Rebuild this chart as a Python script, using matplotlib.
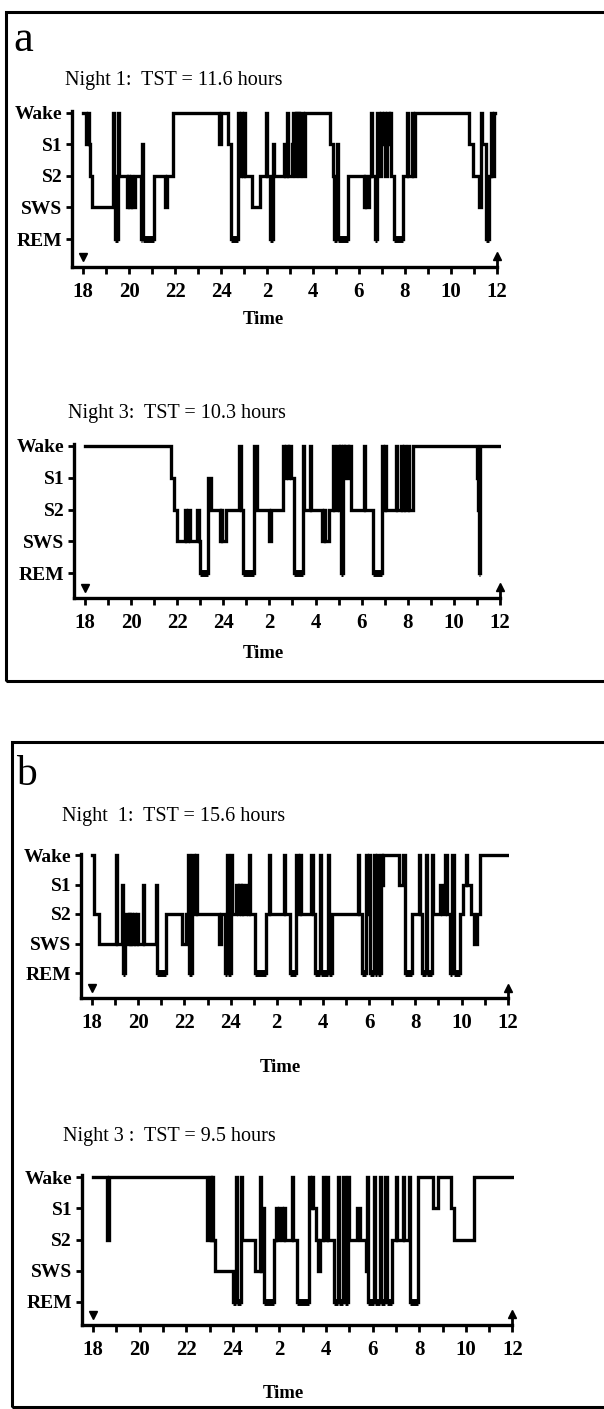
#!/usr/bin/env python3
import numpy as np
import matplotlib
matplotlib.use("Agg")
import matplotlib.pyplot as plt
from matplotlib.patches import Rectangle

# ============================================================
# DATA  (hours after 18:00, sleep stage: 4=Wake 3=S1 2=S2 1=SWS 0=REM)
# ============================================================
STAGE_NAMES = ["REM", "SWS", "S2", "S1", "Wake"]
HOUR_LABELS = ["18", "20", "22", "24", "2", "4", "6", "8", "10", "12"]
TITLES = ["Night 1:  TST = 11.6 hours", "Night 3:  TST = 10.3 hours",
          "Night  1:  TST = 15.6 hours", "Night 3 :  TST = 9.5 hours"]

a1_t = [0.0, 0.15, 0.2, 0.25, 0.3, 0.4, 1.3, 1.35, 1.4, 1.5, 1.55, 1.9, 1.95, 2.0, 2.1, 2.15,
        2.25, 2.5, 2.55, 2.6, 3.1, 3.55, 3.65, 3.9, 5.9, 6.0, 6.3, 6.45, 6.75, 6.8, 6.85, 6.9,
        6.95, 7.0, 7.05, 7.35, 7.7, 7.95, 8.0, 8.15, 8.25, 8.3, 8.75, 8.8, 8.85, 8.9, 9.1, 9.15,
        9.2, 9.25, 9.3, 9.35, 9.4, 9.45, 9.55, 9.65, 10.75, 10.85, 10.9, 11.05, 11.1, 11.5, 12.2,
        12.25, 12.3, 12.45, 12.5, 12.55, 12.7, 12.8, 12.85, 12.95, 13.0, 13.1, 13.15, 13.2, 13.3,
        13.35, 13.4, 13.5, 13.9, 14.1, 14.15, 14.3, 14.35, 14.45, 16.8, 16.95, 17.2, 17.3, 17.35,
        17.5, 17.65, 17.75, 17.8, 17.85, 17.9]
a1_s = [4, 3, 4, 3, 2, 1, 4, 2, 0, 4, 2, 1, 2, 1, 2, 1,
        2, 0, 3, 0, 2, 1, 2, 4, 3, 4, 3, 0, 4, 2, 4, 3,
        2, 4, 2, 1, 2, 4, 2, 0, 3, 2, 3, 2, 4, 2, 3, 4,
        2, 4, 3, 4, 2, 4, 2, 4, 3, 2, 0, 3, 0, 2, 1,
        2, 1, 2, 4, 2, 0, 4, 2, 4, 3, 4, 2, 4, 3,
        4, 2, 0, 2, 4, 2, 4, 2, 4, 3, 2, 1, 4, 3,
        0, 2, 4, 2, 4, 4]

a3_t = [0.0, 3.75, 3.85, 4.0, 4.35, 4.4, 4.45, 4.55, 4.85, 4.95, 5.0, 5.35, 5.45, 5.85, 5.9,
        5.95, 6.1, 6.7, 6.75, 6.85, 7.35, 7.45, 8.0, 8.05, 8.6, 8.65, 8.7, 8.8, 8.85, 8.95,
        9.05, 9.45, 9.5, 9.75, 9.8, 10.3, 10.35, 10.4, 10.6, 10.75, 10.8, 10.95, 11.0, 11.05,
        11.1, 11.2, 11.25, 11.3, 11.4, 11.45, 11.55, 12.1, 12.15, 12.5, 12.9, 12.95, 13.0,
        13.05, 13.5, 13.55, 13.7, 13.75, 13.85, 13.9, 14.0, 14.05, 14.25, 17.0, 17.05, 17.1,
        17.15, 18.0]
a3_s = [4, 3, 2, 1, 2, 1, 2, 1, 2, 1, 0, 3, 2, 1, 2,
        1, 2, 4, 2, 0, 4, 2, 1, 2, 4, 3, 4, 3, 4, 3,
        0, 4, 2, 4, 2, 1, 2, 1, 2, 4, 2, 4, 2, 4,
        0, 4, 3, 4, 3, 4, 2, 4, 2, 0, 4, 2, 4,
        2, 4, 2, 4, 2, 4, 2, 4, 2, 4, 3, 2, 0,
        4, 4]

b1_t = [0.0, 0.08, 0.3, 1.05, 1.1, 1.3, 1.35, 1.42, 1.55, 1.6, 1.65, 1.7, 1.75, 1.8, 1.85,
        1.95, 2.0, 2.2, 2.25, 2.75, 2.8, 3.2, 3.9, 4.05, 4.15, 4.2, 4.35, 4.4, 4.5, 4.55, 5.5,
        5.6, 5.75, 5.85, 5.9, 6.0, 6.05, 6.25, 6.3, 6.35, 6.45, 6.5, 6.55, 6.65, 6.75, 6.8,
        6.85, 7.05, 7.55, 7.65, 7.7, 8.3, 8.35, 8.55, 8.85, 8.9, 9.0, 9.05, 9.5, 9.55, 9.65,
        9.85, 9.9, 10.2, 10.25, 10.4, 11.5, 11.55, 11.7, 11.85, 11.9, 12.0, 12.05, 12.2, 12.25,
        12.35, 12.4, 12.5, 12.55, 12.6, 13.3, 13.45, 13.55, 13.85, 14.15, 14.2, 14.3, 14.45,
        14.5, 14.7, 14.75, 15.05, 15.15, 15.3, 15.35, 15.5, 15.6, 15.65, 15.95, 16.05, 16.2,
        16.25, 16.4, 16.55, 16.65, 16.8, 18.0]
b1_s = [4, 2, 1, 4, 1, 3, 0, 2, 1, 2, 1, 2, 1, 2, 1,
        2, 1, 3, 1, 3, 0, 2, 1, 2, 4, 0, 4, 2, 4, 2, 1,
        2, 0, 4, 0, 4, 2, 3, 2, 3, 2, 3, 2, 3, 2, 4,
        2, 0, 2, 4, 2, 4, 2, 0, 4, 2, 4, 2, 4, 2, 0,
        4, 0, 4, 0, 2, 4, 2, 0, 4, 2, 4, 0, 4, 0,
        4, 0, 4, 3, 4, 3, 4, 0, 2, 4, 2, 0, 4,
        0, 4, 2, 3, 2, 4, 2, 0, 4, 0, 2, 3, 4,
        3, 2, 1, 2, 4, 4]

b3_t = [0.0, 0.6, 0.68, 4.9, 5.0, 5.05, 5.1, 5.15, 5.25, 6.0, 6.15, 6.2, 6.35, 6.4, 6.95,
        7.15, 7.2, 7.3, 7.35, 7.75, 7.85, 7.9, 8.0, 8.1, 8.2, 8.25, 8.55, 8.6, 8.75, 9.25,
        9.3, 9.4, 9.45, 9.55, 9.65, 9.75, 9.85, 9.9, 10.05, 10.1, 10.35, 10.5, 10.55, 10.75,
        10.8, 10.95, 11.0, 11.35, 11.45, 11.7, 11.75, 11.8, 12.05, 12.1, 12.3, 12.35, 12.55,
        12.6, 12.85, 13.0, 13.05, 13.3, 13.35, 13.55, 13.6, 13.95, 14.6, 14.8, 15.35, 15.5,
        16.35, 18.0]
b3_s = [4, 2, 4, 2, 4, 2, 4, 2, 1, 0, 4, 0, 4, 2, 1,
        4, 1, 3, 0, 2, 3, 2, 3, 2, 3, 2, 4, 2, 0, 4,
        3, 4, 3, 2, 1, 2, 4, 2, 4, 2, 0, 4, 0, 4,
        0, 4, 2, 3, 2, 1, 4, 0, 4, 0, 4, 0, 4,
        0, 2, 4, 2, 4, 2, 4, 0, 4, 3, 4, 3, 2,
        4, 4]

SERIES = [(a1_t, a1_s), (a3_t, a3_s), (b1_t, b1_s), (b3_t, b3_s)]

# ============================================================
# LAYOUT (pixels in the 604x1409 canvas)
# x0 = pixel of 18:00, pxh = pixels per hour, y of Wake / REM / x axis
# ============================================================
W, H = 604, 1409
PANEL_GEOM = [
    dict(x0=83, pxh=23.0, yw=113, yr=239, yax=267, title=(65, 80), time=(263, 320)),
    dict(x0=85, pxh=23.05, yw=446, yr=573, yax=598, title=(68, 413), time=(263, 653)),
    dict(x0=92, pxh=23.1, yw=855, yr=973, yax=998, title=(62, 817), time=(280, 1067)),
    dict(x0=93, pxh=23.3, yw=1177, yr=1302, yax=1325, title=(63, 1137), time=(283, 1393)),
]

FONT = "Liberation Serif"
LW_HYP = 2.4
LW_REM = 5.0


def fx(px):
    return px / W


def fy(py):
    return 1 - py / H


def draw_panel(fig, g, t, s, title):
    sp = (g["yr"] - g["yw"]) / 4.0
    x_lo, x_hi = -0.48, 18.05
    y_top = 4.2
    y_lo = -(g["yax"] - g["yr"]) / sp
    left_px = g["x0"] + x_lo * g["pxh"]
    right_px = g["x0"] + x_hi * g["pxh"]
    top_px = g["yw"] - (y_top - 4) * sp
    ax = fig.add_axes([fx(left_px), fy(g["yax"]), (right_px - left_px) / W,
                       (g["yax"] - top_px) / H])
    ax.set_xlim(x_lo, x_hi)
    ax.set_ylim(y_lo, y_top)

    t = np.asarray(t, float)
    s = np.asarray(s, float)
    ax.step(t, s, where="post", color="black", lw=LW_HYP, solid_joinstyle="miter")
    for i in range(len(t) - 1):
        if s[i] == 0:
            ax.plot([t[i], t[i + 1]], [0, 0], color="black", lw=LW_REM,
                    solid_capstyle="butt")

    # lights off / lights on markers
    ax.plot([0], [y_lo + 0.33], marker="v", color="black", ms=6, clip_on=False)
    ax.plot([18], [y_lo + 0.35], marker="^", color="black", ms=6, clip_on=False)
    ax.plot([18, 18], [y_lo, y_lo + 0.35], color="black", lw=2, clip_on=False)

    for side in ["top", "right"]:
        ax.spines[side].set_visible(False)
    ax.spines["left"].set_linewidth(2.4)
    ax.spines["bottom"].set_linewidth(2.4)
    ax.spines["left"].set_bounds(y_lo, 4.05)
    ax.spines["bottom"].set_bounds(x_lo, 18)

    ax.set_xticks(np.arange(0, 19, 2))
    ax.set_xticks(np.arange(1, 18, 2), minor=True)
    ax.set_xticklabels(HOUR_LABELS, fontfamily=FONT, fontweight="bold", fontsize=15)
    ax.tick_params(axis="x", which="both", direction="out", length=5, width=2, pad=6)
    ax.set_yticks(range(5))
    ax.set_yticklabels(STAGE_NAMES, fontfamily=FONT, fontweight="bold", fontsize=14)
    ax.tick_params(axis="y", direction="out", length=4, width=2, pad=3)

    fig.text(fx(g["title"][0]), fy(g["title"][1]), title, fontfamily=FONT,
             fontsize=14.5, ha="left", va="center")
    fig.text(fx(g["time"][0]), fy(g["time"][1]), "Time", fontfamily=FONT,
             fontweight="bold", fontsize=13.5, ha="center", va="center")
    return ax


def main():
    fig = plt.figure(figsize=(W / 100, H / 100), dpi=100)
    fig.patch.set_facecolor("white")

    # panel frames
    fig.patches.append(Rectangle((fx(6), fy(681)), fx(640), (681 - 12) / H, fill=False,
                                 lw=2.2, ec="black", transform=fig.transFigure, clip_on=False))
    fig.patches.append(Rectangle((fx(12), fy(1407)), fx(640), (1407 - 742) / H, fill=False,
                                 lw=2.2, ec="black", transform=fig.transFigure, clip_on=False))
    fig.text(fx(13), fy(40), "a", fontfamily=FONT, fontsize=32, ha="left", va="center")
    fig.text(fx(16), fy(775), "b", fontfamily=FONT, fontsize=30, ha="left", va="center")

    for g, (t, s), title in zip(PANEL_GEOM, SERIES, TITLES):
        draw_panel(fig, g, t, s, title)

    fig.savefig("out.png", dpi=100, facecolor="white")
    plt.close(fig)


if __name__ == "__main__":
    main()
